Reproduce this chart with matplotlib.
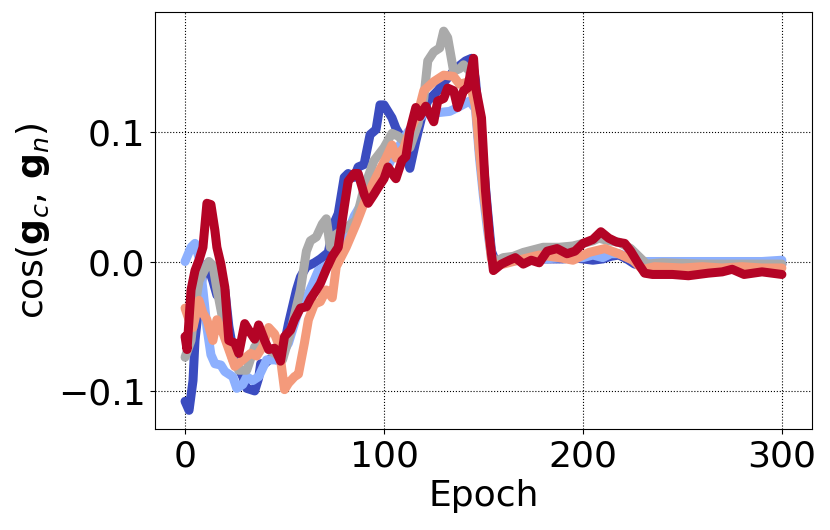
import matplotlib
matplotlib.use("Agg")
import matplotlib.pyplot as plt

# Valores (epoca, cosseno) para cada curva
ep_azul = [0, 2, 4, 5, 7, 9, 11, 14, 16, 18, 20, 22, 25, 29, 31, 35, 37, 38, 40, 43, 46, 50, 52, 54,
           56, 58, 61, 65, 68, 72, 75, 77, 80, 82, 85, 87, 90, 91, 93, 96, 98, 100, 102, 104, 106, 109,
           113, 116, 119, 122, 127, 131, 136, 141, 144, 146, 148, 150, 152, 154, 156,
           160, 170, 180, 190, 195, 200, 205, 210, 214, 218, 222, 226, 230, 240, 250, 260, 270, 280, 290, 300]
val_azul = [-0.108, -0.115, -0.092, -0.061, -0.033, -0.007, -0.002, -0.015, -0.026, -0.025, -0.022, -0.050,
            -0.076, -0.089, -0.098, -0.100, -0.090, -0.079, -0.079, -0.075, -0.076, -0.063, -0.048, -0.035,
            -0.022, -0.012, -0.004, -0.001, 0.002, 0.007, 0.030, 0.037, 0.065, 0.068, 0.065, 0.073, 0.075,
            0.083, 0.098, 0.102, 0.121, 0.121, 0.116, 0.111, 0.103, 0.095, 0.072, 0.093, 0.112, 0.124,
            0.132, 0.140, 0.149, 0.155, 0.157, 0.140, 0.105, 0.075, 0.040, 0.008, 0.000,
            0.001, 0.001, 0.002, 0.002, 0.003, 0.002, 0.001, 0.002, 0.004, 0.005, 0.002, -0.002, -0.003,
            -0.002, -0.002, -0.002, -0.002, -0.002, -0.002, -0.002]

ep_azul_claro = [0, 3, 5, 7, 9, 11, 13, 15, 18, 20, 24, 26, 29, 31, 34, 37, 41, 47, 52, 57, 62, 67, 72,
                 76, 80, 85, 90, 96, 101, 104, 108, 112, 116, 120, 127, 133, 137, 143, 146, 148, 150,
                 152, 154, 156, 160, 170, 180, 190, 200, 205, 210, 214, 218, 222, 226, 230, 240, 250,
                 260, 270, 280, 290, 300]
val_azul_claro = [0.000, 0.011, 0.014, 0.003, -0.022, -0.051, -0.072, -0.079, -0.080, -0.085, -0.089,
                  -0.098, -0.095, -0.089, -0.092, -0.089, -0.076, -0.076, -0.063, -0.038, -0.025, -0.007,
                  -0.002, 0.004, 0.015, 0.035, 0.048, 0.058, 0.070, 0.080, 0.090, 0.100, 0.108, 0.114,
                  0.115, 0.116, 0.119, 0.124, 0.118, 0.080, 0.050, 0.025, 0.003, 0.000, 0.000, 0.001,
                  0.002, 0.003, 0.003, 0.005, 0.003, 0.006, 0.006, 0.004, 0.000, 0.000, 0.000, 0.000,
                  0.000, 0.000, 0.000, 0.000, 0.001]

ep_cinza = [0, 3, 5, 7, 9, 12, 14, 16, 20, 24, 27, 31, 35, 38, 42, 46, 49, 53, 56, 58, 61, 63, 66, 69,
            71, 73, 76, 81, 86, 90, 95, 100, 104, 107, 110, 113, 117, 120, 122, 125, 128, 130, 132, 135,
            138, 140, 143, 146, 148, 150, 152, 154, 156, 160, 165, 170, 175, 180, 188, 195, 200, 205,
            208, 213, 218, 224, 228, 232, 240, 260, 280, 300]
val_cinza = [-0.074, -0.061, -0.035, -0.015, -0.009, 0.000, -0.003, -0.021, -0.053, -0.076, -0.084,
             -0.084, -0.066, -0.062, -0.068, -0.072, -0.076, -0.055, -0.035, -0.022, 0.008, 0.016, 0.019,
             0.029, 0.033, 0.011, 0.021, 0.026, 0.032, 0.057, 0.078, 0.088, 0.099, 0.097, 0.093, 0.088,
             0.106, 0.126, 0.155, 0.162, 0.165, 0.178, 0.173, 0.147, 0.149, 0.152, 0.147, 0.125, 0.085,
             0.055, 0.030, 0.005, 0.000, 0.003, 0.004, 0.007, 0.009, 0.011, 0.011, 0.012, 0.014, 0.016,
             0.018, 0.016, 0.015, 0.010, 0.004, -0.002, -0.001, -0.002, -0.002, -0.002]

ep_salmao = [0, 2, 4, 7, 9, 11, 14, 16, 19, 22, 25, 29, 33, 36, 39, 42, 45, 47, 50, 52, 55, 57, 60, 62,
             65, 68, 71, 74, 76, 81, 86, 91, 96, 101, 104, 106, 110, 113, 117, 120, 125, 130, 135, 138,
             143, 146, 148, 150, 152, 154, 156, 160, 170, 178, 188, 195, 203, 211, 218, 225, 230, 236,
             250, 260, 270, 280, 290, 300]
val_salmao = [-0.036, -0.045, -0.051, -0.030, -0.040, -0.045, -0.061, -0.045, -0.055, -0.068, -0.081,
              -0.076, -0.071, -0.073, -0.066, -0.051, -0.056, -0.064, -0.099, -0.094, -0.089, -0.087,
              -0.063, -0.045, -0.033, -0.031, -0.022, -0.028, -0.004, 0.011, 0.029, 0.049, 0.065, 0.080,
              0.090, 0.080, 0.088, 0.101, 0.114, 0.132, 0.139, 0.144, 0.143, 0.137, 0.139, 0.120, 0.085,
              0.055, 0.030, 0.002, -0.003, -0.002, 0.002, 0.005, 0.003, 0.001, 0.007, 0.010, 0.006,
              0.001, -0.006, -0.004, -0.005, -0.004, -0.005, -0.004, -0.005, -0.005]

ep_vermelho = [0, 1, 3, 5, 7, 9, 11, 13, 15, 16, 18, 20, 22, 25, 27, 30, 32, 35, 37, 40, 42, 45, 48, 50,
               53, 55, 58, 61, 63, 66, 68, 71, 74, 77, 80, 82, 85, 87, 90, 92, 95, 97, 100, 102, 105,
               106, 109, 111, 113, 116, 118, 121, 125, 127, 130, 132, 135, 137, 140, 142, 145, 146, 149,
               151, 153, 155, 159, 163, 166, 170, 174, 178, 182, 187, 192, 196, 200, 205, 209, 213, 217,
               221, 224, 228, 231, 235, 245, 253, 263, 270, 275, 281, 290, 300]
val_vermelho = [-0.058, -0.068, -0.022, -0.007, 0.001, 0.011, 0.045, 0.044, 0.024, 0.011, -0.002, -0.020,
                -0.061, -0.063, -0.071, -0.048, -0.053, -0.060, -0.049, -0.061, -0.068, -0.067, -0.077,
                -0.058, -0.053, -0.045, -0.036, -0.035, -0.029, -0.022, -0.017, -0.006, 0.004, 0.011,
                0.042, 0.062, 0.068, 0.068, 0.052, 0.045, 0.052, 0.057, 0.064, 0.073, 0.066, 0.064, 0.078,
                0.081, 0.101, 0.119, 0.112, 0.120, 0.108, 0.124, 0.126, 0.134, 0.132, 0.119, 0.132, 0.134,
                0.157, 0.135, 0.111, 0.055, 0.019, -0.007, -0.002, 0.001, 0.003, -0.002, 0.001, -0.001,
                0.008, 0.010, 0.006, 0.008, 0.014, 0.017, 0.023, 0.018, 0.015, 0.014, 0.008, -0.002,
                -0.009, -0.010, -0.010, -0.011, -0.009, -0.008, -0.006, -0.010, -0.008, -0.010]

series = [
    (ep_azul, val_azul, "#3b4cc0"),
    (ep_azul_claro, val_azul_claro, "#8db0fe"),
    (ep_cinza, val_cinza, "#aaaaaa"),
    (ep_salmao, val_salmao, "#f49a7b"),
    (ep_vermelho, val_vermelho, "#b40426"),
]

fig = plt.figure(figsize=(8.3, 5.3), dpi=100)
ax = fig.add_axes([0.187, 0.19, 0.791, 0.787])

for ep, val, cor in series:
    ax.plot(ep, val, color=cor, linewidth=6.5, solid_capstyle="round", solid_joinstyle="round")

ax.set_xticks([0, 100, 200, 300])
ax.set_yticks([-0.1, 0.0, 0.1])
ax.tick_params(labelsize=26)
ax.grid(True, linestyle=":", color="black", linewidth=0.8)

ax.set_xlabel("Epoch", fontsize=26)
ax.set_ylabel(r"$\cos(\mathbf{g}_c,\, \mathbf{g}_n)$", fontsize=26)

plt.savefig("out.png", dpi=100)
